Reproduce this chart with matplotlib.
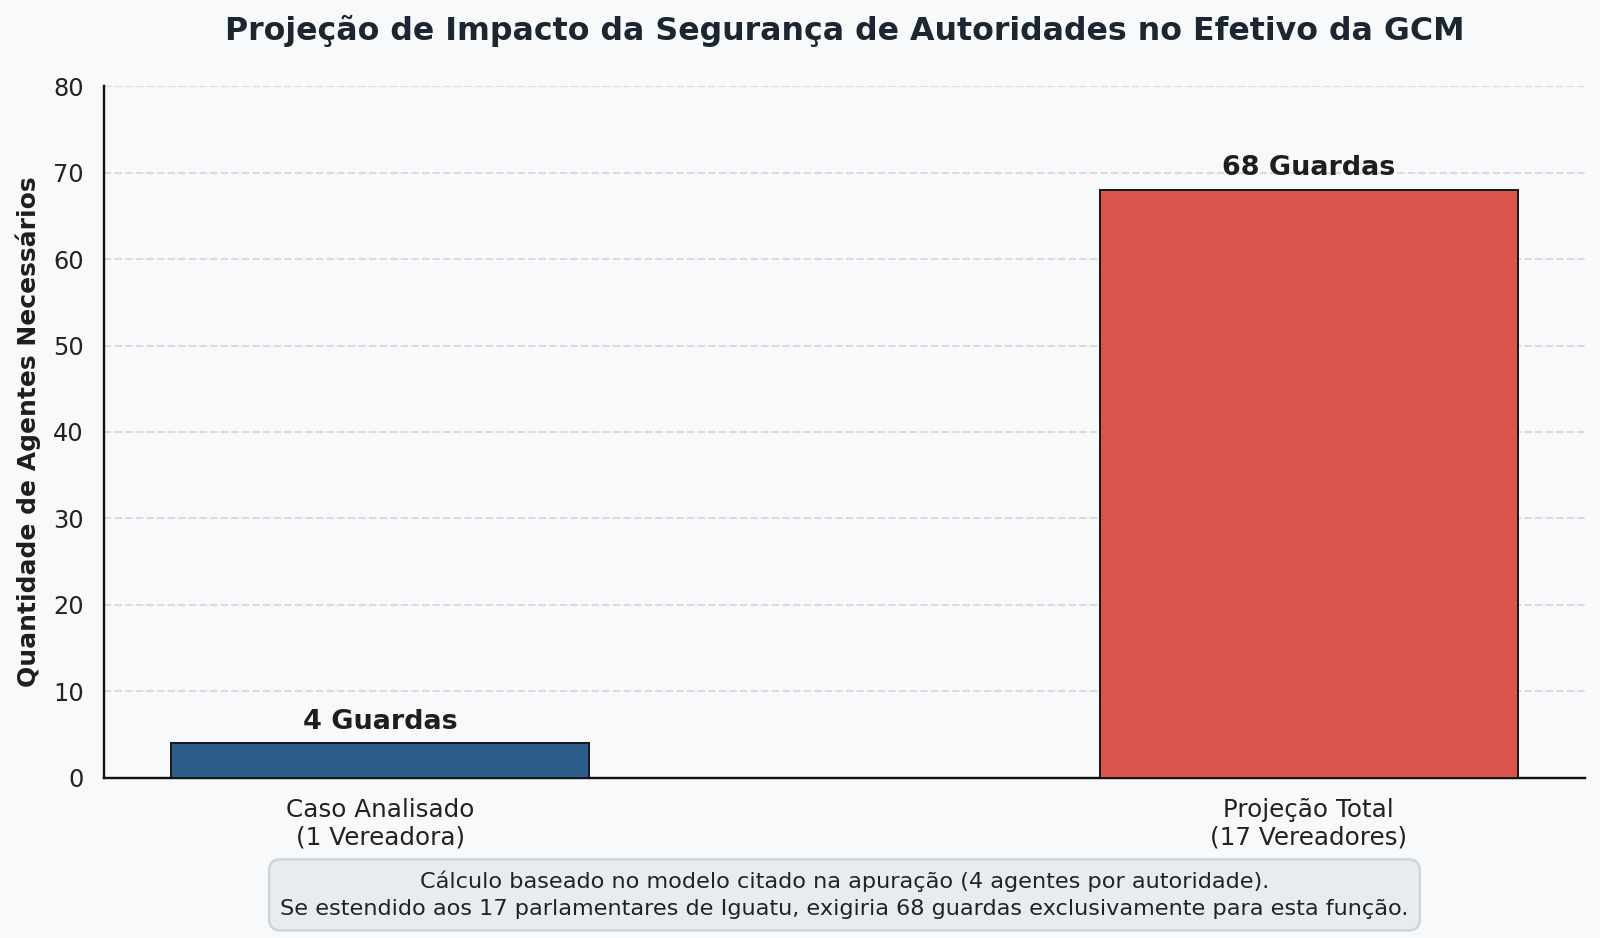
import matplotlib
matplotlib.use('Agg')
import matplotlib.pyplot as plt

# dados do gráfico
categorias = ['Caso Analisado\n(1 Vereadora)', 'Projeção Total\n(17 Vereadores)']
guardas = [4, 68]
rotulos = ['4 Guardas', '68 Guardas']
cores = ['#2b5c8a', '#d9534f']

titulo = 'Projeção de Impacto da Segurança de Autoridades no Efetivo da GCM'
nota = ('Cálculo baseado no modelo citado na apuração (4 agentes por autoridade).\n'
        'Se estendido aos 17 parlamentares de Iguatu, exigiria 68 guardas exclusivamente para esta função.')

plt.rcParams['font.family'] = 'DejaVu Sans'

fig = plt.figure(figsize=(1600 / 144, 938 / 144), dpi=144, facecolor='#f8f9fa')
ax = fig.add_axes([0.065, 0.1706, 0.9256, 0.7377])
ax.set_facecolor('#f8f9fa')

x = range(len(categorias))
barras = ax.bar(x, guardas, width=0.45, color=cores, edgecolor='#1a1a1a', linewidth=1.0, zorder=3)

# rótulos acima das barras
for b, txt in zip(barras, rotulos):
    ax.text(b.get_x() + b.get_width() / 2, b.get_height() + 1, txt,
            ha='center', va='bottom', fontsize=13.5, fontweight='bold', color='#1e1e1e')

ax.set_ylim(0, 80)
ax.set_xticks(list(x))
ax.set_xticklabels(categorias, fontsize=12.3, color='#222222')
ax.tick_params(axis='y', labelsize=12, labelcolor='#222222')
ax.tick_params(axis='both', length=0, pad=10)

ax.set_ylabel('Quantidade de Agentes Necessários', fontsize=12.5, fontweight='bold', color='#1e1e1e', labelpad=6)
ax.set_title(titulo, fontsize=15.8, fontweight='bold', color='#1b2631', pad=23)

ax.yaxis.grid(True, linestyle='--', color='#cfd3d7', linewidth=1.0, alpha=0.8, zorder=0)
ax.set_axisbelow(True)

ax.spines['top'].set_visible(False)
ax.spines['right'].set_visible(False)
for s in ['left', 'bottom']:
    ax.spines[s].set_color('#111111')
    ax.spines[s].set_linewidth(1.2)

ax.text(0.5, -0.169, nota, transform=ax.transAxes, ha='center', va='center',
        fontsize=11.2, color='#222222', linespacing=1.45,
        bbox=dict(boxstyle='round,pad=0.5', facecolor='#e9ecef', edgecolor='#ced4da', linewidth=1.2))

fig.savefig('out.png', dpi=144, facecolor=fig.get_facecolor())
